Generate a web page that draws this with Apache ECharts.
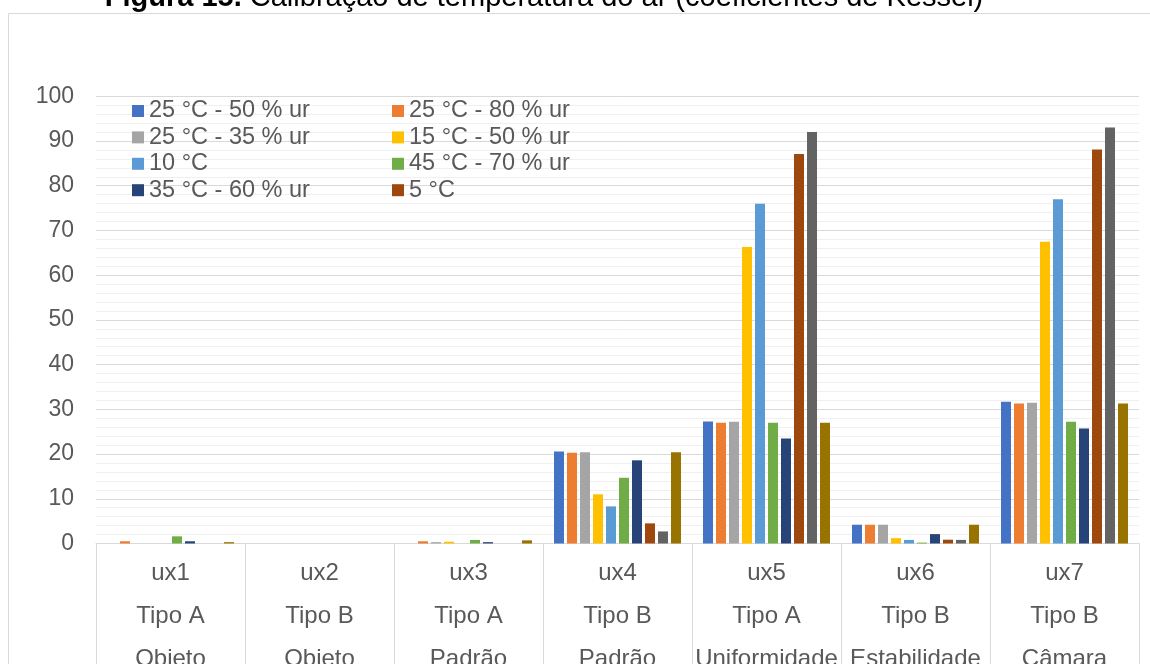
<!DOCTYPE html>
<html>
<head>
<meta charset="utf-8">
<script src="https://cdn.jsdelivr.net/npm/echarts@6/dist/echarts.min.js"></script>
<style>
  html, body { margin: 0; padding: 0; background: #fff; overflow: hidden; }
  #chart { width: 1150px; height: 664px; }
</style>
</head>
<body>
<div id="chart"></div>
<script>
// Three-level category labels
const categories = ['ux1', 'ux2', 'ux3', 'ux4', 'ux5', 'ux6', 'ux7'];
const tipos = ['Tipo A', 'Tipo B', 'Tipo A', 'Tipo B', 'Tipo A', 'Tipo B', 'Tipo B'];
const ensaios = ['Objeto', 'Objeto', 'Padrão', 'Padrão', 'Uniformidade', 'Estabilidade', 'Câmara'];

// Series names (the last two are not listed in the legend)
const seriesNames = [
  '25 °C - 50 % ur', '25 °C - 80 % ur', '25 °C - 35 % ur', '15 °C - 50 % ur',
  '10 °C', '45 °C - 70 % ur', '35 °C - 60 % ur', '5 °C', 'Série 9', 'Série 10'
];

// Values per series, one per category
const s25_50 = [0, 0, 0, 20.6, 27.3, 4.2, 31.7];
const s25_80 = [0.5, 0, 0.5, 20.3, 27.0, 4.2, 31.3];
const s25_35 = [0, 0, 0.3, 20.4, 27.2, 4.2, 31.5];
const s15_50 = [0, 0, 0.4, 11.0, 66.3, 1.2, 67.5];
const s10 = [0, 0, 0, 8.3, 76.0, 0.8, 77.0];
const s45_70 = [1.6, 0, 0.8, 14.7, 27.0, 0.2, 27.2];
const s35_60 = [0.5, 0, 0.3, 18.6, 23.5, 2.1, 25.7];
const s5 = [0, 0, 0, 4.5, 87.1, 0.85, 88.1];
const serie9 = [0, 0, 0, 2.7, 92.0, 0.8, 93.0];
const serie10 = [0.3, 0, 0.7, 20.4, 27.0, 4.2, 31.3];

const seriesValues = [s25_50, s25_80, s25_35, s15_50, s10, s45_70, s35_60, s5, serie9, serie10];
const colors = ['#4472C4', '#ED7D31', '#A5A5A5', '#FFC000', '#5B9BD5',
                '#70AD47', '#264478', '#9E480E', '#636363', '#997300'];

// Y axis ticks
const yMin = 0, yMax = 100, yStep = 10;

const FONT = '"Liberation Sans", Arial, sans-serif';
const TEXT_COLOR = '#595959';

const chart = echarts.init(document.getElementById('chart'), null, { renderer: 'canvas' });

const legendBase = {
  orient: 'vertical',
  top: 97.8,
  icon: 'rect',
  itemWidth: 12,
  itemHeight: 12,
  itemGap: 0,
  padding: 0,
  selectedMode: false,
  textStyle: { fontFamily: FONT, fontSize: 23.5, lineHeight: 26.4, color: TEXT_COLOR }
};

chart.setOption({
  animation: false,
  color: colors,
  textStyle: { fontFamily: FONT },
  graphic: [
    {
      type: 'rect',
      z: -10,
      shape: { x: 8.5, y: 13.5, width: 1300, height: 800 },
      style: { fill: 'none', stroke: '#d9d9d9', lineWidth: 1 }
    },
    {
      type: 'text',
      x: 544,
      y: -2,
      style: {
        text: '{b|Figura 15.} Calibração de temperatura do ar (coeficientes de Kessel)',
        align: 'center',
        verticalAlign: 'middle',
        fill: '#000',
        font: '29px ' + FONT,
        rich: { b: { fontWeight: 'bold', fontSize: 29, fontFamily: FONT, fill: '#000' } }
      }
    }
  ],
  legend: [
    Object.assign({}, legendBase, { left: 132, data: [0, 2, 4, 6].map(i => seriesNames[i]) }),
    Object.assign({}, legendBase, { left: 392, data: [1, 3, 5, 7].map(i => seriesNames[i]) })
  ],
  grid: {
    left: 96, right: 11, top: 96.3, bottom: 120.5,
    containLabel: false,
    outerBoundsMode: 'none'
  },
  xAxis: {
    type: 'category',
    data: categories,
    boundaryGap: true,
    axisLine: { show: true, lineStyle: { color: '#d9d9d9', width: 1 } },
    axisTick: { show: true, interval: 0, length: 130, lineStyle: { color: '#d9d9d9', width: 1 } },
    axisLabel: {
      interval: 0,
      margin: 8.5,
      fontFamily: FONT,
      fontSize: 24,
      lineHeight: 43,
      color: TEXT_COLOR,
      formatter: (v, i) => v + '\n' + tipos[i] + '\n' + ensaios[i]
    },
    splitLine: { show: false }
  },
  yAxis: {
    type: 'value',
    min: yMin,
    max: yMax,
    interval: yStep,
    axisLine: { show: false },
    axisTick: { show: false },
    axisLabel: { margin: 22, fontFamily: FONT, fontSize: 23, color: TEXT_COLOR },
    splitLine: { show: true, lineStyle: { color: '#d9d9d9', width: 1 } },
    minorTick: { show: false, splitNumber: 5 },
    minorSplitLine: { show: true, lineStyle: { color: '#f0f0f0', width: 1 } }
  },
  series: seriesValues.map((vals, i) => ({
    name: seriesNames[i],
    type: 'bar',
    data: vals,
    barWidth: 10,
    barGap: '30%',
    itemStyle: { color: colors[i] }
  }))
});
</script>
</body>
</html>
